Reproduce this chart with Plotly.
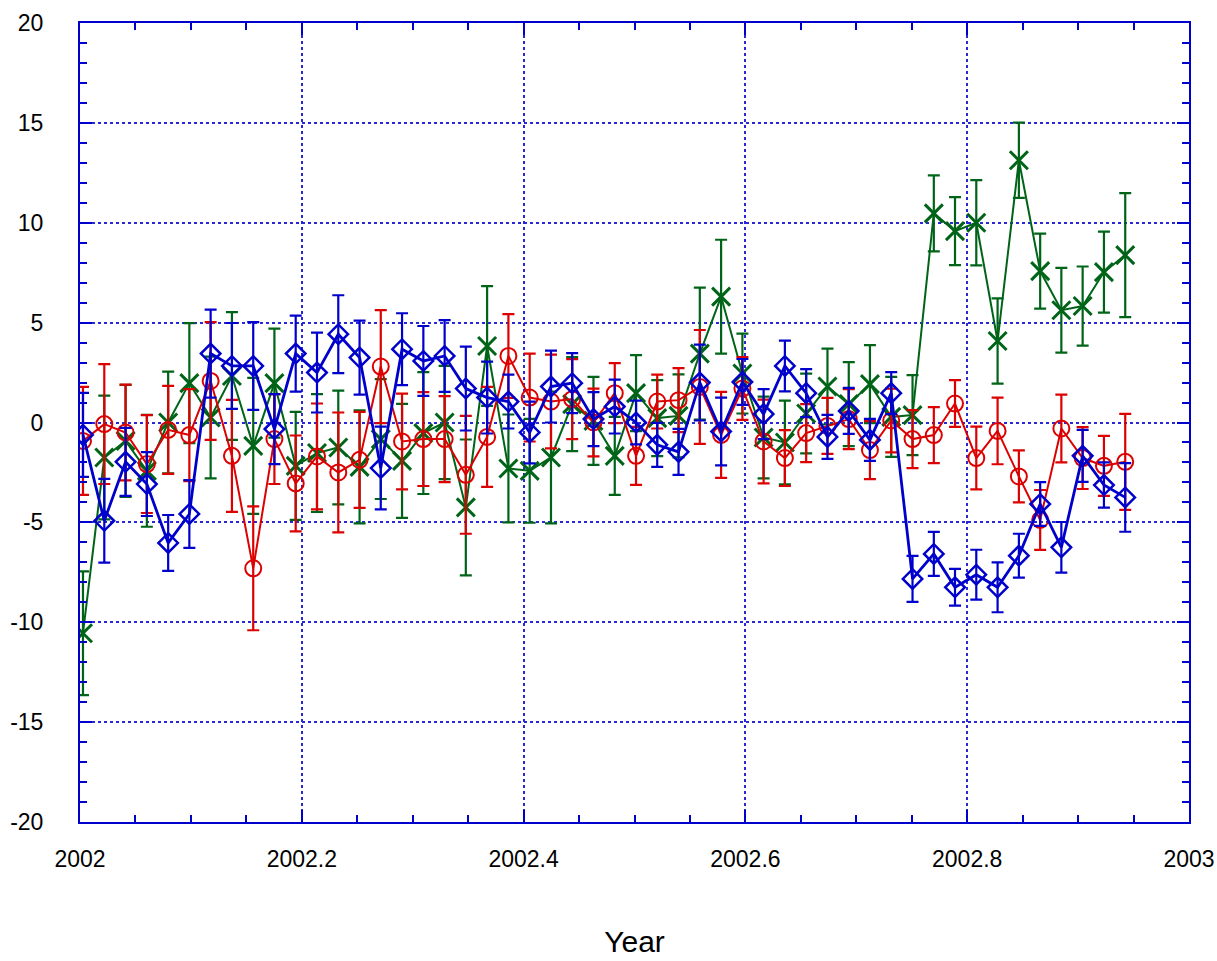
import plotly.graph_objects as go

# decimal-year sample positions (weekly)
years = [2002.0027, 2002.0219, 2002.0411, 2002.0603, 2002.0795, 2002.0986, 2002.1178, 2002.1370,
         2002.1562, 2002.1753, 2002.1945, 2002.2137, 2002.2329, 2002.2521, 2002.2712, 2002.2904,
         2002.3096, 2002.3288, 2002.3479, 2002.3671, 2002.3863, 2002.4055, 2002.4247, 2002.4438,
         2002.4630, 2002.4822, 2002.5014, 2002.5205, 2002.5397, 2002.5589, 2002.5781, 2002.5973,
         2002.6164, 2002.6356, 2002.6548, 2002.6740, 2002.6932, 2002.7123, 2002.7315, 2002.7507,
         2002.7699, 2002.7890, 2002.8082, 2002.8274, 2002.8466, 2002.8658, 2002.8849, 2002.9041,
         2002.9233, 2002.9425]

blue_vals = [-0.62, -4.92, -1.97, -3.08, -6.03, -4.58, 3.45, 2.83, 2.83, -0.33,
             3.45, 2.5, 4.42, 3.25, -2.28, 3.67, 3.08, 3.33, 1.7, 1.25,
             1.05, -0.5, 1.8, 1.97, 0.17, 0.8, 0.0, -1.12, -1.47, 2.0,
             -0.45, 2.03, 0.42, 2.83, 1.47, -0.72, 0.58, -0.87, 1.47, -7.83,
             -6.58, -8.25, -7.62, -8.25, -6.67, -4.08, -6.25, -1.67, -3.13, -3.75]
blue_err = [2.1, 2.1, 1.7, 1.6, 1.4, 1.7, 2.2, 2.15, 2.2, 1.75,
            1.9, 2.0, 1.95, 1.85, 2.07, 1.8, 1.75, 1.8, 2.1, 1.8,
            1.35, 1.55, 1.8, 1.5, 1.35, 1.35, 1.1, 1.1, 1.15, 1.9,
            1.7, 1.15, 1.25, 1.27, 1.2, 1.1, 1.15, 1.05, 1.05, 1.15,
            1.1, 0.92, 1.25, 1.25, 1.1, 1.1, 1.27, 1.3, 1.13, 1.72]

red_vals = [-0.92, -0.08, -0.5, -2.08, -0.37, -0.63, 2.08, -1.67, -7.3, -0.83,
            -3.05, -1.7, -2.5, -1.87, 2.8, -0.95, -0.83, -0.83, -2.62, -0.72,
            3.33, 1.25, 1.05, 1.17, 0.0, 1.47, -1.67, 1.05, 1.12, 1.78,
            -0.62, 1.7, -0.95, -1.78, -0.53, -0.17, 0.17, -1.38, 0.1, -0.83,
            -0.63, 0.95, -1.78, -0.42, -2.7, -4.88, -0.3, -1.78, -2.17, -1.97]
red_err = [2.7, 3.0, 2.4, 2.45, 2.2, 2.3, 2.95, 2.8, 3.1, 2.25,
           2.4, 2.65, 3.0, 2.4, 2.83, 2.4, 2.35, 2.15, 2.95, 2.5,
           2.1, 2.2, 2.35, 2.0, 1.7, 1.5, 1.45, 1.35, 1.6, 2.85,
           2.15, 1.57, 2.1, 1.4, 1.45, 1.4, 1.5, 1.45, 1.6, 1.45,
           1.4, 1.17, 1.57, 1.67, 1.3, 1.5, 1.7, 1.55, 1.5, 2.4]

green_vals = [-10.55, -1.75, -0.92, -2.42, 0.0, 1.97, 0.25, 2.33, -1.17, 1.97,
              -2.17, -1.53, -1.25, -2.22, -0.83, -1.92, -0.53, 0.0, -4.25, 3.83,
              -2.3, -2.42, -1.75, 0.92, 0.08, -1.67, 1.47, 0.22, 0.33, 3.45,
              6.3, 2.45, -0.75, -1.0, 0.45, 1.8, 0.92, 1.92, 0.28, 0.37,
              10.47, 9.58, 10.0, 4.08, 13.13, 7.58, 5.62, 5.83, 7.53, 8.38]
green_err = [3.1, 3.1, 2.8, 2.8, 2.55, 3.0, 3.05, 3.2, 3.4, 2.73,
             2.7, 2.95, 2.85, 2.83, 3.0, 2.85, 3.05, 2.83, 3.4, 3.0,
             2.7, 2.6, 3.3, 2.35, 2.2, 1.95, 1.9, 1.9, 2.08, 3.3,
             2.85, 2.0, 2.05, 2.1, 2.0, 1.9, 2.1, 1.95, 2.0, 2.0,
             1.9, 1.7, 2.13, 2.13, 1.88, 1.88, 2.12, 1.98, 2.03, 3.1]

x_ticks = [2002, 2002.2, 2002.4, 2002.6, 2002.8, 2003]
x_tick_labels = ["2002", "2002.2", "2002.4", "2002.6", "2002.8", "2003"]
y_ticks = [-20, -15, -10, -5, 0, 5, 10, 15, 20]
y_tick_labels = ["-20", "-15", "-10", "-5", "0", "5", "10", "15", "20"]

BLUE = "#0000CC"
RED = "#DD0000"
GREEN = "#006418"
AXIS = "#0000CC"
GRID = "#2828D8"

fig = go.Figure()

fig.add_trace(go.Scatter(
    x=years, y=green_vals, mode="lines+markers",
    line=dict(color=GREEN, width=2),
    marker=dict(symbol="x-thin-open", size=18, line=dict(color=GREEN, width=3), color=GREEN),
    error_y=dict(type="data", array=green_err, visible=True, color=GREEN, thickness=2.2, width=6),
    showlegend=False))

fig.add_trace(go.Scatter(
    x=years, y=red_vals, mode="lines+markers",
    line=dict(color=RED, width=2),
    marker=dict(symbol="circle-open", size=16, line=dict(color=RED, width=2), color=RED),
    error_y=dict(type="data", array=red_err, visible=True, color=RED, thickness=2.2, width=6),
    showlegend=False))

fig.add_trace(go.Scatter(
    x=years, y=blue_vals, mode="lines+markers",
    line=dict(color=BLUE, width=2.8),
    marker=dict(symbol="diamond-open", size=15, line=dict(color=BLUE, width=2.5), color=BLUE),
    error_y=dict(type="data", array=blue_err, visible=True, color=BLUE, thickness=2.2, width=6),
    showlegend=False))

font_family = "Liberation Sans, Arial, sans-serif"

fig.update_layout(
    width=1217, height=961,
    margin=dict(l=80, r=28, t=23, b=139, autoexpand=False),
    paper_bgcolor="white", plot_bgcolor="white",
    font=dict(family=font_family, size=23, color="black"),
    xaxis=dict(
        range=[2002, 2003], tickmode="array", tickvals=x_ticks, ticktext=x_tick_labels,
        ticks="inside", ticklen=12, tickwidth=2, tickcolor=AXIS,
        showline=True, linecolor=AXIS, linewidth=2, mirror="allticks",
        showgrid=True, gridcolor=GRID, gridwidth=2, griddash="dot",
        zeroline=False, ticklabelstandoff=15, automargin=False,
        ticklabeloverflow="allow",
        minor=dict(dtick=0.05, tick0=2002, ticks="inside", ticklen=7, tickwidth=2,
                   tickcolor=AXIS, showgrid=False),
        title=dict(text="Year", font=dict(size=30, family=font_family), standoff=60),
        tickfont=dict(size=23, family=font_family),
    ),
    yaxis=dict(
        range=[-20, 20], tickmode="array", tickvals=y_ticks, ticktext=y_tick_labels,
        ticks="inside", ticklen=12, tickwidth=2, tickcolor=AXIS,
        showline=True, linecolor=AXIS, linewidth=2, mirror="allticks",
        showgrid=True, gridcolor=GRID, gridwidth=2, griddash="dot",
        zeroline=False, ticklabelstandoff=30, automargin=False,
        minor=dict(dtick=1, tick0=0, ticks="inside", ticklen=7, tickwidth=2,
                   tickcolor=AXIS, showgrid=False),
        tickfont=dict(size=23, family=font_family),
    ),
)

fig.write_html("out.html")
